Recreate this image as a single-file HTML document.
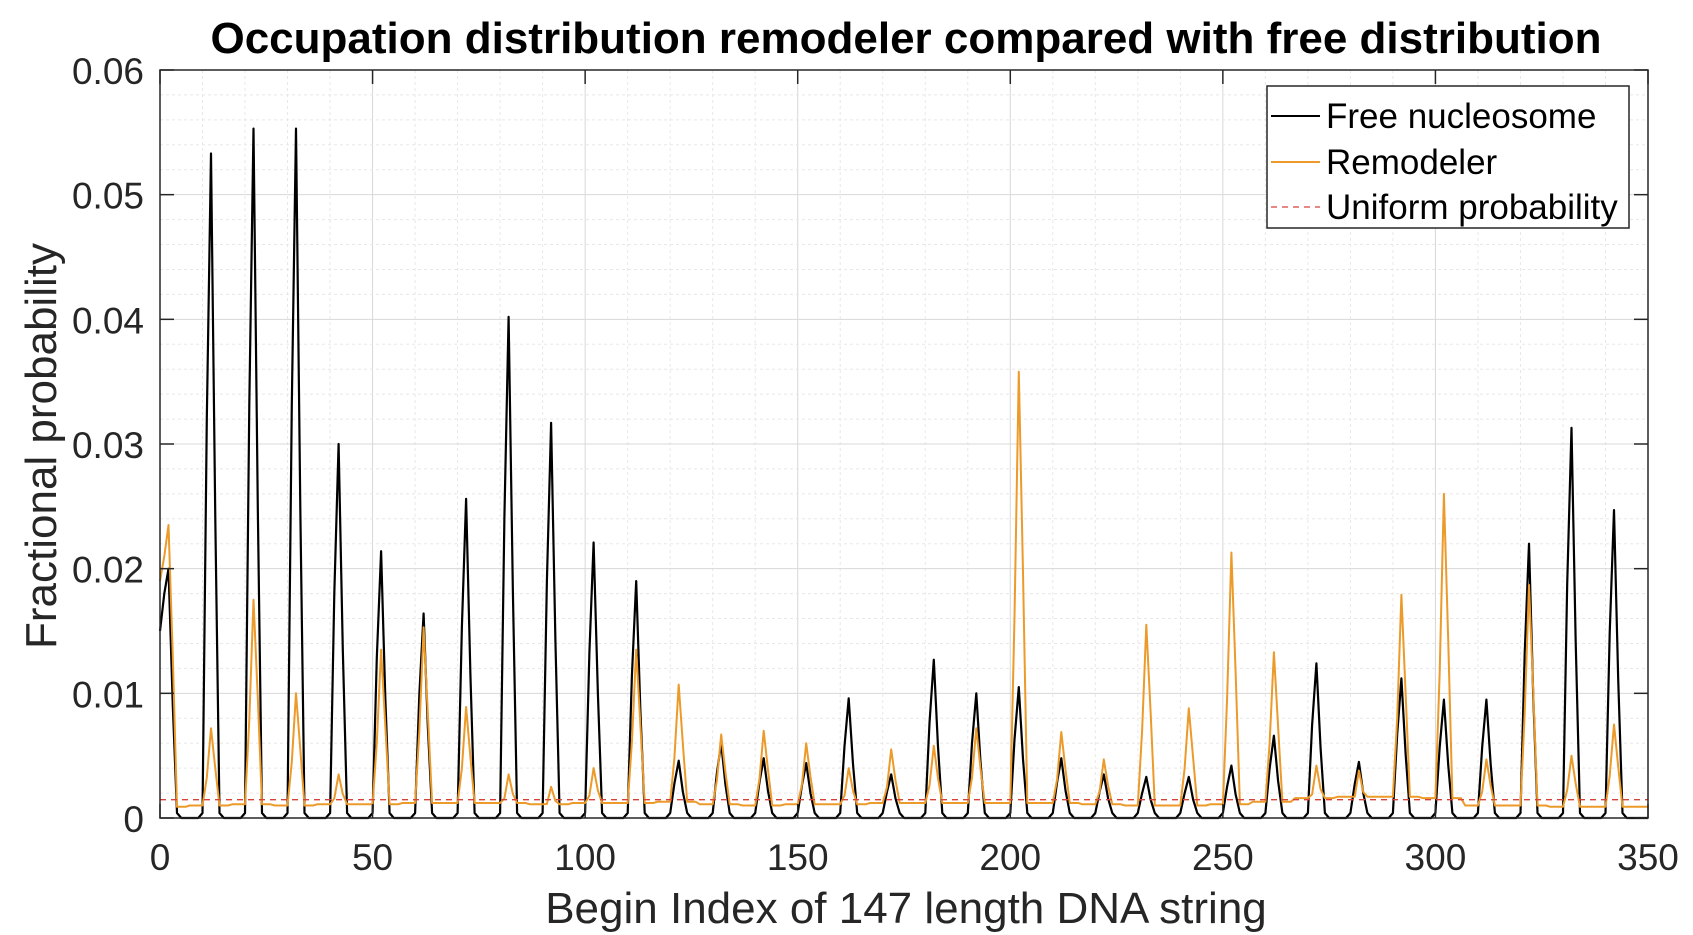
<!DOCTYPE html>
<html><head><meta charset="utf-8">
<style>
html,body{margin:0;padding:0;background:#fff;}
svg{display:block;font-family:"Liberation Sans",Arial,sans-serif;}
</style></head>
<body>
<svg id="chart" width="1693" height="935" viewBox="0 0 1693 935" xmlns="http://www.w3.org/2000/svg">
<rect width="1693" height="935" fill="#fff"/>
<g id="grid"></g>
<g id="series"></g>
<g id="axes"></g>
<text x="906" y="53" text-anchor="middle" font-size="44" font-weight="bold" fill="#000">Occupation distribution remodeler compared with free distribution</text>
<text x="906" y="923" text-anchor="middle" font-size="44" fill="#262626">Begin Index of 147 length DNA string</text>
<text transform="translate(56,446) rotate(-90)" text-anchor="middle" font-size="44" fill="#262626">Fractional probability</text>
<g>
<rect x="1267" y="86" width="362" height="142" fill="#fff" stroke="#262626" stroke-width="1.5"/>
<line x1="1271" y1="116" x2="1320" y2="116" stroke="#000" stroke-width="2"/>
<text x="1326" y="128" font-size="35" fill="#000">Free nucleosome</text>
<line x1="1271" y1="162" x2="1320" y2="162" stroke="#EC9A29" stroke-width="2"/>
<text x="1326" y="174" font-size="35" fill="#000">Remodeler</text>
<line x1="1271" y1="207" x2="1320" y2="207" stroke="#D6413A" stroke-width="1.3" stroke-dasharray="6,5"/>
<text x="1326" y="219" font-size="35" fill="#000">Uniform probability</text>
</g>
</svg>
<script>
const peakPos = [2,12,22,32,42,52,62,72,82,92,102,112,122,132,142,152,162,172,182,192,202,212,222,232,242,252,262,272,282,292,302,312,322,332,342];
const freePeak = [0.020,0.0533,0.0553,0.0553,0.030,0.0214,0.0164,0.0256,0.0402,0.0317,0.0221,0.019,0.0046,0.006,0.0048,0.0044,0.0096,0.0035,0.0127,0.010,0.0105,0.0048,0.0035,0.0033,0.0033,0.0042,0.0066,0.0124,0.0045,0.0112,0.0095,0.0095,0.022,0.0313,0.0247];
const remodPeak = [0.0235,0.0072,0.0175,0.010,0.0035,0.0135,0.0153,0.0089,0.0035,0.0025,0.004,0.0135,0.0107,0.0067,0.007,0.006,0.004,0.0055,0.0058,0.0072,0.0358,0.0069,0.0047,0.0155,0.0088,0.0213,0.0133,0.0042,0.0038,0.0179,0.026,0.0047,0.0187,0.005,0.0075];
const remodBase = [0.0009,0.001,0.0011,0.001,0.0011,0.0011,0.0012,0.0012,0.0012,0.0011,0.0012,0.0012,0.0013,0.0011,0.001,0.0011,0.0011,0.0012,0.0012,0.0012,0.0012,0.0012,0.0011,0.001,0.001,0.0011,0.0013,0.0016,0.0017,0.0017,0.0016,0.001,0.001,0.0009,0.0009];
const freeStart = [0.015, 0.018];
const remodStart = [0.019, 0.021];
const uniformProb = 0.00147;
const xTicks = [0,50,100,150,200,250,300,350];
const yTicks = [0,0.01,0.02,0.03,0.04,0.05,0.06];

const L=160,R=1648,T=70,B=818;
const X=v=>L+(v/350)*(R-L);
const Y=v=>B-(v/0.06)*(B-T);
const NS='http://www.w3.org/2000/svg';
function mk(tag,attrs,parent){const e=document.createElementNS(NS,tag);for(const k in attrs)e.setAttribute(k,attrs[k]);parent.appendChild(e);return e;}
const grid=document.getElementById('grid'),series=document.getElementById('series'),axes=document.getElementById('axes');

for(let v=0;v<=350;v+=10){const l=mk('line',{x1:X(v),x2:X(v),y1:T,y2:B,stroke:v%50===0?'#d8d8d8':'#e8e8e8','stroke-width':1,'stroke-dasharray':v%50===0?'':'3,3'},grid);

}
for(let i=0;i<=30;i++){const v=i*0.002;const l=mk('line',{x1:L,x2:R,y1:Y(v),y2:Y(v),stroke:i%5===0?'#d8d8d8':'#e8e8e8','stroke-width':1,'stroke-dasharray':i%5===0?'':'3,3'},grid);

}

const free=new Array(351).fill(0), remod=new Array(351).fill(0);
for(let i=0;i<=350;i++){let g=Math.min(remodBase.length-1,Math.max(0,Math.floor((i+3)/10)));remod[i]=remodBase[g];}
peakPos.forEach((p,k)=>{
  const f=freePeak[k], r=remodPeak[k];
  const setF=(i,v)=>{if(i>=0&&i<=350)free[i]=Math.max(free[i],v);};
  const setR=(i,v)=>{if(i>=0&&i<=350)remod[i]=Math.max(remod[i],v);};
  setF(p,f);setF(p-1,f*0.6);setF(p+1,f*0.45);setF(p-2,0.0004);setF(p+2,0.0004);
  setR(p,r);setR(p-1,r*0.45);setR(p+1,r*0.55);
});
freeStart.forEach((v,i)=>{free[i]=v;});
remodStart.forEach((v,i)=>{remod[i]=v;});
function path(arr,stroke,w,name){let d='';arr.forEach((v,i)=>{d+=(i?'L':'M')+X(i).toFixed(1)+','+Y(v).toFixed(1);});
const e=mk('path',{d:d,fill:'none',stroke:stroke,'stroke-width':w,'stroke-linejoin':'round'},series);

}
path(free,'#000',2.2,'free-nucleosome-line');
path(remod,'#EC9A29',2,'remodeler-line');
const u=mk('line',{x1:L,x2:R,y1:Y(uniformProb),y2:Y(uniformProb),stroke:'#D6413A','stroke-width':1.3,'stroke-dasharray':'6,5'},series);



const box=mk('rect',{x:L,y:T,width:R-L,height:B-T,fill:'none',stroke:'#262626','stroke-width':1.5},axes);


xTicks.forEach(v=>{
  mk('line',{x1:X(v),x2:X(v),y1:B,y2:B-14,stroke:'#262626','stroke-width':1.5},axes);
  mk('line',{x1:X(v),x2:X(v),y1:T,y2:T+14,stroke:'#262626','stroke-width':1.5},axes);
  const t=mk('text',{x:X(v),y:870,'text-anchor':'middle','font-size':37,fill:'#262626'},axes);t.textContent=v;
  
  
});
yTicks.forEach(v=>{
  mk('line',{x1:L,x2:L+14,y1:Y(v),y2:Y(v),stroke:'#262626','stroke-width':1.5},axes);
  mk('line',{x1:R,x2:R-14,y1:Y(v),y2:Y(v),stroke:'#262626','stroke-width':1.5},axes);
  const t=mk('text',{x:L-16,y:Y(v)+14,'text-anchor':'end','font-size':37,fill:'#262626'},axes);t.textContent=v===0?'0':v.toFixed(2);
  
  
});
</script>
</body></html>
